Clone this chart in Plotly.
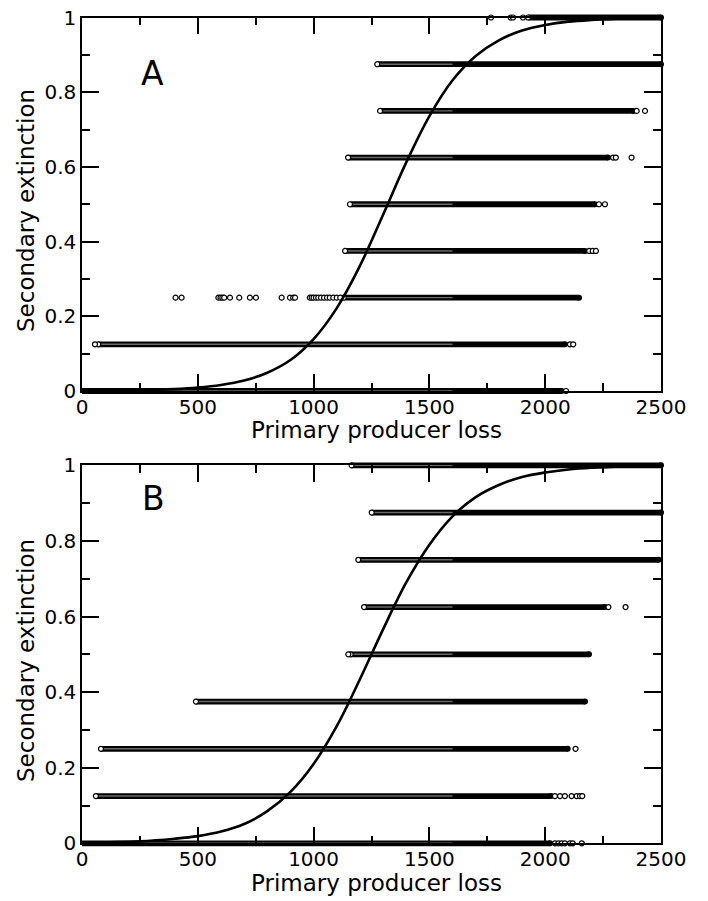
import plotly.graph_objects as go
from plotly.subplots import make_subplots

# ---------------- data ----------------
levels = [0, 0.125, 0.25, 0.375, 0.5, 0.625, 0.75, 0.875, 1.0]

# Panel A: extent of the dense rows of points at each extinction level
a_start = [0, 70, 1130, 1136, 1157, 1149, 1287, 1275, 1926]
a_end = [2071, 2085, 2146, 2172, 2215, 2271, 2381, 2500, 2500]
# Panel A: isolated points
a_out_x = [2090,
           56, 2107, 2121,
           404, 430, 589, 598, 606, 614, 639, 679, 725, 751, 862, 898, 912, 920,
           984, 992, 1000, 1010, 1020, 1032, 1045, 1058, 1070, 1085, 1100, 1115,
           2190, 2205, 2219,
           2232, 2258,
           2293, 2305, 2373,
           2395, 2431,
           1766, 1851, 1861, 1904]
a_out_y = [0,
           0.125, 0.125, 0.125,
           0.25, 0.25, 0.25, 0.25, 0.25, 0.25, 0.25, 0.25, 0.25, 0.25, 0.25, 0.25, 0.25, 0.25,
           0.25, 0.25, 0.25, 0.25, 0.25, 0.25, 0.25, 0.25, 0.25, 0.25, 0.25, 0.25,
           0.375, 0.375, 0.375,
           0.5, 0.5,
           0.625, 0.625, 0.625,
           0.75, 0.75,
           1.0, 1.0, 1.0, 1.0]

# Panel B
b_start = [0, 60, 82, 492, 1160, 1218, 1193, 1251, 1164]
b_end = [2021, 2025, 2097, 2172, 2189, 2258, 2490, 2500, 2500]
b_out_x = [2042, 2057, 2071, 2085, 2107, 2119, 2158,
           2042, 2064, 2085, 2114, 2136, 2150, 2160,
           2131,
           1150,
           2273, 2347]
b_out_y = [0, 0, 0, 0, 0, 0, 0,
           0.125, 0.125, 0.125, 0.125, 0.125, 0.125, 0.125,
           0.25,
           0.5,
           0.625, 0.625]

# fitted curves
curve_x = [0, 250, 400, 500, 600, 700, 800, 900, 1000, 1100, 1200, 1300, 1400,
           1500, 1600, 1700, 1800, 1900, 2000, 2100, 2200, 2350, 2500]
curve_a = [0.0005, 0.002, 0.005, 0.009, 0.016, 0.028, 0.049, 0.083, 0.139, 0.222,
           0.335, 0.472, 0.612, 0.736, 0.832, 0.897, 0.939, 0.965, 0.980, 0.989,
           0.9934, 0.9972, 0.9988]
curve_b = [0.0014, 0.005, 0.012, 0.019, 0.031, 0.051, 0.085, 0.136, 0.21, 0.31,
           0.434, 0.566, 0.69, 0.79, 0.865, 0.916, 0.948, 0.969, 0.981, 0.989,
           0.9935, 0.997, 0.999]

x_ticks = [0, 500, 1000, 1500, 2000, 2500]
y_ticks = [0, 0.2, 0.4, 0.6, 0.8, 1.0]
y_ticktext = ["0", "0.2", "0.4", "0.6", "0.8", "1"]
panel_labels = ["A", "B"]
x_title = "Primary producer loss"
y_title = "Secondary extinction"

# ---------------- style / layout ----------------
FONT = "DejaVu Sans"
BAND_PX = 5.8
STRIPE_PX = 1.4
STRIPE_COLOR = "#6a6a6a"
TEXTURE_LIMIT = 1600
OFF = 8                     # page body margin
W, H = 700, 893


def px(xs):
    return (xs - OFF) / W


def py(ys):
    return 1 - (ys - OFF) / H


fig = make_subplots(rows=2, cols=1)

panels = [
    (a_start, a_end, a_out_x, a_out_y, curve_a),
    (b_start, b_end, b_out_x, b_out_y, curve_b),
]

open_marker = dict(symbol="circle", size=5, color="white", line=dict(width=1.2, color="black"))

for i, (st, en, ox, oy, cy) in enumerate(panels, start=1):
    xref = "x" if i == 1 else "x2"
    yref = "y domain" if i == 1 else "y2 domain"   # y range is [0, 1], so domain == data
    for s, e, lv in zip(st, en, levels):
        fig.add_shape(type="line", x0=s, x1=e, y0=lv, y1=lv, xref=xref, yref=yref,
                      layer="below", line=dict(color="black", width=BAND_PX))
        te = min(e, TEXTURE_LIMIT)
        if te > s:
            fig.add_shape(type="line", x0=s, x1=te, y0=lv, y1=lv, xref=xref, yref=yref,
                          layer="below", line=dict(color=STRIPE_COLOR, width=STRIPE_PX))
    fig.add_trace(go.Scatter(
        x=en, y=levels, mode="markers",
        marker=dict(symbol="circle", size=6, color="black", line=dict(width=0)),
        cliponaxis=False, showlegend=False, hoverinfo="skip"), row=i, col=1)
    fig.add_trace(go.Scatter(
        x=[s for s in st if s > 0], y=[l for s, l in zip(st, levels) if s > 0],
        mode="markers", marker=open_marker,
        cliponaxis=False, showlegend=False, hoverinfo="skip"), row=i, col=1)
    fig.add_trace(go.Scatter(
        x=ox, y=oy, mode="markers", marker=open_marker,
        cliponaxis=False, showlegend=False, hoverinfo="skip"), row=i, col=1)
    fig.add_trace(go.Scatter(
        x=curve_x, y=cy, mode="lines", line=dict(color="black", width=2.6, shape="spline"),
        showlegend=False, hoverinfo="skip"), row=i, col=1)

x_dom = [px(82), px(661)]
y_doms = [[py(391), py(17.5)], [py(843.3), py(465.3)]]

axis_common = dict(
    showline=True, linecolor="black", linewidth=1.5, mirror="allticks",
    ticks="inside", ticklen=17, tickwidth=1.5, tickcolor="black",
    showgrid=False, zeroline=False,
    tickfont=dict(family=FONT, size=20, color="black"),
    ticklabeloverflow="allow",
    automargin=False,
)

for i in (1, 2):
    xa = "xaxis" if i == 1 else "xaxis2"
    ya = "yaxis" if i == 1 else "yaxis2"
    fig.layout[xa].update(
        domain=x_dom, range=[0, 2500], tickvals=x_ticks, ticklabelstandoff=-3,
        minor=dict(ticks="inside", ticklen=8, tickwidth=1.5, tickcolor="black",
                   dtick=250, tick0=0, showgrid=False),
        **axis_common)
    fig.layout[ya].update(
        domain=y_doms[i - 1], range=[0, 1], tickvals=y_ticks, ticktext=y_ticktext,
        minor=dict(ticks="inside", ticklen=8, tickwidth=1.5, tickcolor="black",
                   dtick=0.1, tick0=0, showgrid=False),
        **axis_common)

title_font = dict(family=FONT, size=23, color="black")
for xt_y in (430, 883):
    fig.add_annotation(x=px(376), y=py(xt_y), xref="paper", yref="paper", text=x_title,
                       showarrow=False, font=title_font, xanchor="center", yanchor="middle")
for yt_y in (211, 661):
    fig.add_annotation(x=px(26), y=py(yt_y), xref="paper", yref="paper", text=y_title,
                       showarrow=False, font=title_font, textangle=-90,
                       xanchor="center", yanchor="middle")
fig.add_annotation(x=px(139), y=py(52), xref="paper", yref="paper", text=panel_labels[0],
                   showarrow=False, font=dict(family=FONT, size=33, color="black"))
fig.add_annotation(x=px(140), y=py(498), xref="paper", yref="paper", text=panel_labels[1],
                   showarrow=False, font=dict(family=FONT, size=33, color="black"))

fig.update_layout(
    width=W, height=H,
    margin=dict(l=0, r=0, t=0, b=0),
    paper_bgcolor="white", plot_bgcolor="white",
    showlegend=False,
)

fig.write_html("out.html")
